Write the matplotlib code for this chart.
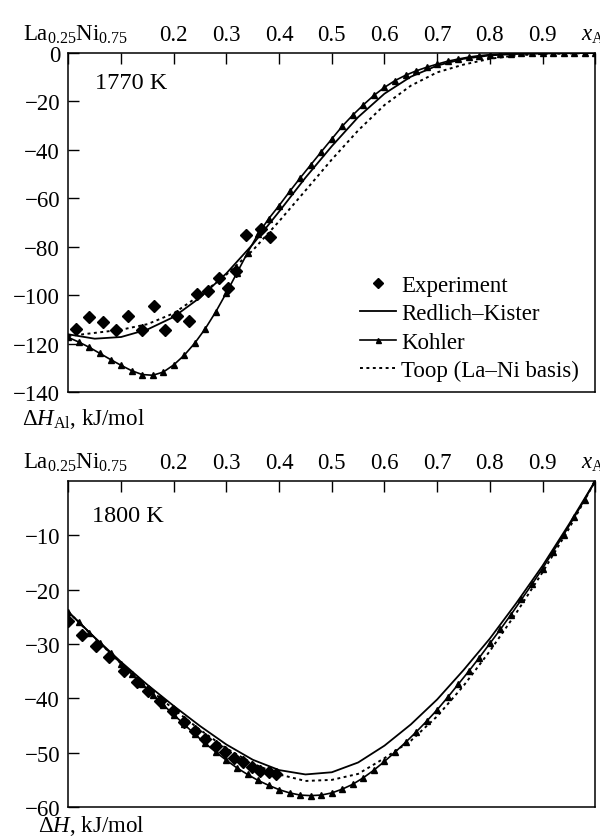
import matplotlib
matplotlib.use("Agg")
import matplotlib.pyplot as plt
from matplotlib.transforms import ScaledTranslation

plt.rcParams["font.family"] = ["Liberation Serif", "DejaVu Serif"]
plt.rcParams["mathtext.fontset"] = "custom"
plt.rcParams["mathtext.rm"] = "Liberation Serif"
plt.rcParams["mathtext.it"] = "Liberation Serif:italic"
plt.rcParams["mathtext.bf"] = "Liberation Serif:bold"
plt.rcParams["font.size"] = 16.5

# --- x grids the curves were read on ---
x_coarse = [0.00, 0.05, 0.10, 0.15, 0.20, 0.25, 0.30, 0.35, 0.40, 0.45, 0.50,
            0.55, 0.60, 0.65, 0.70, 0.75, 0.80, 0.85, 0.90, 0.95, 1.00]
x_fine = [0.00, 0.02, 0.04, 0.06, 0.08, 0.10, 0.12, 0.14, 0.16, 0.18, 0.20,
          0.22, 0.24, 0.26, 0.28, 0.30, 0.32, 0.34, 0.36, 0.38, 0.40,
          0.42, 0.44, 0.46, 0.48, 0.50, 0.52, 0.54, 0.56, 0.58, 0.60,
          0.62, 0.64, 0.66, 0.68, 0.70, 0.72, 0.74, 0.76, 0.78, 0.80,
          0.82, 0.84, 0.86, 0.88, 0.90, 0.92, 0.94, 0.96, 0.98, 1.00]

# --- 1770 K, partial enthalpy of Al ---
exp1_x = [0.015, 0.040, 0.065, 0.091, 0.114, 0.140, 0.162, 0.184, 0.206, 0.228,
          0.245, 0.265, 0.285, 0.303, 0.319, 0.338, 0.366, 0.383]
exp1_y = [-114.1, -108.9, -110.9, -114.3, -108.5, -114.4, -104.6, -114.3, -108.8, -110.5,
          -99.4, -98.5, -92.8, -97.2, -90.2, -75.3, -72.6, -76.0]
rk1 = [-116.2, -118.0, -117.3, -114.2, -109.0, -101.0, -91.0, -79.0, -65.5, -51.5, -38.5,
       -26.5, -16.8, -9.8, -5.2, -2.4, -1.0, -0.4, -0.2, -0.1, 0.0]
toop1 = [-116.9, -115.6, -114.3, -112.0, -107.5, -100.0, -91.5, -81.5, -69.5, -56.8, -44.0,
         -32.0, -21.5, -13.5, -8.0, -4.8, -2.4, -1.0, -0.4, -0.2, 0.0]
kohler1 = [-117.5, -119.4, -121.6, -124.1, -126.6, -129.0, -131.2, -132.8, -133.1, -131.8, -128.8,
           -124.8, -119.8, -113.8, -106.8, -99.0, -90.8, -82.5, -74.8, -68.5, -63.0,
           -57.2, -51.6, -46.2, -40.8, -35.5, -30.2, -25.6, -21.4, -17.5, -14.2,
           -11.4, -9.2, -7.4, -5.9, -4.6, -3.4, -2.5, -1.7, -1.1, -0.7,
           -0.5, -0.3, -0.2, -0.2, -0.1, -0.1, -0.1, 0.0, 0.0, 0.0]

# --- 1800 K, integral enthalpy ---
exp2_x = [0.000, 0.025, 0.052, 0.078, 0.105, 0.130, 0.152, 0.174, 0.198, 0.219,
          0.241, 0.260, 0.281, 0.298, 0.314, 0.332, 0.349, 0.364, 0.380, 0.395]
exp2_y = [-25.7, -28.3, -30.4, -32.4, -34.9, -36.9, -38.6, -40.5, -42.4, -44.3,
          -46.0, -47.4, -48.7, -49.8, -50.9, -51.8, -52.6, -53.3, -53.5, -54.0]
rk2 = [-24.1, -28.8, -33.3, -37.5, -41.4, -45.1, -48.5, -51.3, -53.2, -54.0, -53.6,
       -51.8, -48.7, -44.8, -40.2, -34.8, -29.0, -22.5, -15.6, -8.0, 0.0]
toop2 = [-24.1, -28.9, -33.6, -38.0, -42.0, -45.8, -49.2, -52.0, -54.0, -55.2, -55.0,
         -53.9, -51.0, -47.8, -43.3, -37.7, -31.3, -24.3, -16.8, -8.8, 0.0]
kohler2 = [-24.1, -26.0, -27.9, -29.8, -31.7, -33.6, -35.5, -37.4, -39.3, -41.2, -43.0,
           -44.8, -46.6, -48.3, -49.9, -51.4, -52.8, -54.0, -55.1, -56.0, -56.8,
           -57.4, -57.8, -57.9, -57.8, -57.4, -56.7, -55.8, -54.6, -53.2, -51.6,
           -49.9, -48.1, -46.2, -44.2, -42.1, -39.8, -37.4, -35.0, -32.5, -29.9,
           -27.3, -24.6, -21.8, -19.0, -16.1, -13.0, -9.9, -6.7, -3.4, 0.0]

top_ticks = [0.0, 0.1, 0.2, 0.3, 0.4, 0.5, 0.6, 0.7, 0.8, 0.9, 1.0]
top_labels = [r"La$_{0.25}$Ni$_{0.75}$", "", "0.2", "0.3", "0.4", "0.5",
              "0.6", "0.7", "0.8", "0.9", r"$x_{\mathrm{Al}}$"]

fig = plt.figure(figsize=(6, 8.37), dpi=100)
ax1 = fig.add_axes([0.114, 0.5305, 0.878, 0.4050])
ax2 = fig.add_axes([0.114, 0.0346, 0.878, 0.3895])


def draw(ax, ex, ey, rk, toop, kohler):
    ax.plot(x_coarse, rk, color="black", lw=1.3, label="Redlich\u2013Kister")
    ax.plot(x_coarse, toop, color="black", lw=1.4, dashes=(1.5, 1.8),
            label="Toop (La\u2013Ni basis)")
    ax.plot(x_fine, kohler, color="black", lw=1.2, marker="^", ms=4.5,
            label="Kohler")
    ax.plot(ex, ey, "D", color="black", ms=6, mec="black", label="Experiment")
    ax.set_xlim(0, 1)
    ax.set_xticks(top_ticks)
    ax.set_xticklabels(top_labels)
    ax.tick_params(axis="x", direction="in", length=8, width=1, pad=6,
                   top=True, bottom=False, labeltop=True, labelbottom=False)
    ax.tick_params(axis="y", direction="in", length=8, width=1, pad=6,
                   left=True, right=False)
    for sp in ax.spines.values():
        sp.set_linewidth(1.1)
    # the composition label sits a little right of the x = 0 tick
    first = ax.xaxis.get_majorticklabels()[0]
    first.set_transform(first.get_transform()
                        + ScaledTranslation(7 / 100, 0, fig.dpi_scale_trans))


draw(ax1, exp1_x, exp1_y, rk1, toop1, kohler1)
ax1.set_ylim(-140, 0)
ax1.set_yticks([0, -20, -40, -60, -80, -100, -120, -140])
ax1.text(0.051, 0.913, "1770 K", transform=ax1.transAxes, fontsize=17.5,
         va="center", ha="left")

h, l = ax1.get_legend_handles_labels()
order = [3, 0, 2, 1]
ax1.legend([h[i] for i in order], [l[i] for i in order], loc="upper left",
           bbox_to_anchor=(0.553, 0.345), frameon=False, borderpad=0,
           borderaxespad=0, handlelength=1.6, handletextpad=0.2,
           labelspacing=0.32, fontsize=16.5, markerscale=0.8)

draw(ax2, exp2_x, exp2_y, rk2, toop2, kohler2)
ax2.set_ylim(-60, 0)
ax2.set_yticks([-10, -20, -30, -40, -50, -60])
ax2.text(0.044, 0.894, "1800 K", transform=ax2.transAxes, fontsize=17.5,
         va="center", ha="left")

fig.text(0.037, 1 - 425 / 837, r"$\Delta H_{\mathrm{Al}}$, kJ/mol", ha="left",
         va="baseline", fontsize=16.5)
fig.text(0.063, 0.006, r"$\Delta H$, kJ/mol", ha="left", va="baseline",
         fontsize=16.5)

fig.savefig("out.png", dpi=100)
